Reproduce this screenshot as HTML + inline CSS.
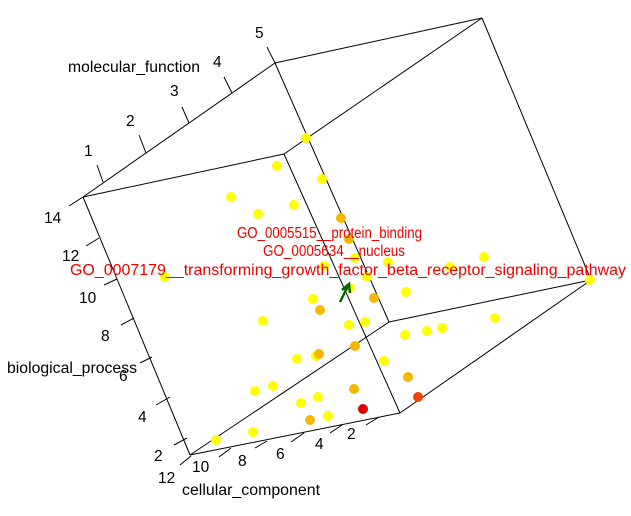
<!DOCTYPE html>
<html><head><meta charset="utf-8"><style>html,body{margin:0;padding:0;background:#fff}svg{display:block}</style></head>
<body>
<svg width="631" height="516" viewBox="0 0 631 516" xmlns="http://www.w3.org/2000/svg" font-family="Liberation Sans, sans-serif">
<rect width="631" height="516" fill="#fff"/>
<g stroke="#000" stroke-width="1" fill="none">
<line x1="83" y1="197" x2="275" y2="63"/>
<line x1="83" y1="197" x2="190" y2="455"/>
<line x1="83" y1="197" x2="284" y2="154"/>
<line x1="275" y1="63" x2="482" y2="18"/>
<line x1="275" y1="63" x2="389" y2="322"/>
<line x1="284" y1="154" x2="482" y2="18"/>
<line x1="284" y1="154" x2="400" y2="413"/>
<line x1="190" y1="455" x2="400" y2="413"/>
<line x1="190" y1="455" x2="389" y2="322"/>
<line x1="389" y1="322" x2="591" y2="280"/>
<line x1="400" y1="413" x2="591" y2="280"/>
<line x1="482" y1="18" x2="591" y2="280"/>
<line x1="97" y1="165" x2="103" y2="182"/>
<line x1="139" y1="135" x2="146" y2="153"/>
<line x1="182" y1="107" x2="189" y2="123"/>
<line x1="224" y1="77" x2="232" y2="93"/>
<line x1="267" y1="47" x2="275" y2="63"/>
<line x1="69" y1="206" x2="83" y2="197"/>
<line x1="86" y1="246" x2="99" y2="238"/>
<line x1="104" y1="285" x2="117" y2="279"/>
<line x1="121" y1="325" x2="134" y2="318"/>
<line x1="140" y1="363" x2="152" y2="357"/>
<line x1="156" y1="405" x2="170" y2="397"/>
<line x1="174" y1="445" x2="187" y2="438"/>
<line x1="180" y1="465" x2="191" y2="456"/>
<line x1="219" y1="457" x2="231" y2="448"/>
<line x1="255" y1="448" x2="267" y2="441"/>
<line x1="291" y1="442" x2="304" y2="433"/>
<line x1="330" y1="433" x2="342" y2="425"/>
<line x1="366" y1="425" x2="379" y2="417"/>
</g>
<g font-size="15.5" fill="#000">
<text x="68" y="72" textLength="132" lengthAdjust="spacingAndGlyphs">molecular_function</text>
<text x="84" y="156">1</text><text x="126" y="126">2</text><text x="170" y="96">3</text><text x="213" y="67">4</text><text x="255" y="38">5</text>
<text x="44" y="223">14</text><text x="62" y="261">12</text><text x="79" y="303">10</text><text x="101" y="341">8</text><text x="119" y="381">6</text><text x="138" y="422">4</text><text x="154" y="461">2</text>
<text x="7" y="373" textLength="130" lengthAdjust="spacingAndGlyphs">biological_process</text>
<text x="158" y="483">12</text><text x="192" y="472">10</text><text x="238" y="466">8</text><text x="276" y="459">6</text><text x="315" y="449">4</text><text x="347" y="439">2</text>
<text x="182" y="495" textLength="138" lengthAdjust="spacingAndGlyphs">cellular_component</text>
</g>
<g fill="#ffff00">
<circle cx="306" cy="138" r="5"/><circle cx="322" cy="179" r="5"/><circle cx="277" cy="166" r="5"/><circle cx="231" cy="197" r="5"/><circle cx="294" cy="205" r="5"/><circle cx="258" cy="214" r="5"/>
<circle cx="355" cy="258" r="5"/><circle cx="324" cy="266" r="5"/><circle cx="367" cy="277" r="5"/><circle cx="388" cy="262" r="5"/><circle cx="450" cy="267" r="5"/><circle cx="484" cy="257" r="5"/>
<circle cx="165" cy="277" r="5"/><circle cx="590" cy="280" r="5"/><circle cx="350" cy="288" r="5"/><circle cx="313" cy="299" r="5"/><circle cx="263" cy="321" r="5"/>
<circle cx="406" cy="292" r="5"/><circle cx="349" cy="325" r="5"/><circle cx="365" cy="322" r="5"/><circle cx="495" cy="318" r="5"/><circle cx="427" cy="331" r="5"/><circle cx="442" cy="328" r="5"/><circle cx="405" cy="335" r="5"/>
<circle cx="297" cy="359" r="5"/><circle cx="316" cy="356" r="5"/><circle cx="384" cy="361" r="5"/><circle cx="273" cy="386" r="5"/><circle cx="255" cy="391" r="5"/><circle cx="318" cy="397" r="5"/><circle cx="301" cy="403" r="5"/><circle cx="328" cy="416" r="5"/><circle cx="253" cy="432" r="5"/><circle cx="216" cy="440" r="5"/>
</g>
<g fill="#f5b800">
<circle cx="341" cy="218" r="5"/><circle cx="349" cy="239" r="5"/><circle cx="320" cy="310" r="5"/><circle cx="374" cy="298" r="5"/><circle cx="319" cy="354" r="5"/><circle cx="355" cy="346" r="5"/><circle cx="408" cy="377" r="5"/><circle cx="354" cy="389" r="5"/><circle cx="310" cy="420" r="5"/>
</g>
<circle cx="418" cy="397" r="5" fill="#ee4400"/>
<circle cx="363" cy="409" r="5" fill="#dd0000"/>
<g stroke="#006400" stroke-width="2.5" fill="none"><line x1="340" y1="302" x2="349" y2="284"/><polyline points="342,290 349,284 350,293"/></g>
<g font-size="15.5" fill="#ee0000">
<text x="237" y="238" textLength="185" lengthAdjust="spacingAndGlyphs">GO_0005515__protein_binding</text>
<text x="263" y="256" textLength="142" lengthAdjust="spacingAndGlyphs">GO_0005634__nucleus</text>
<text x="70" y="275" textLength="556" lengthAdjust="spacingAndGlyphs">GO_0007179__transforming_growth_factor_beta_receptor_signaling_pathway</text>
</g>
</svg>
</body></html>
